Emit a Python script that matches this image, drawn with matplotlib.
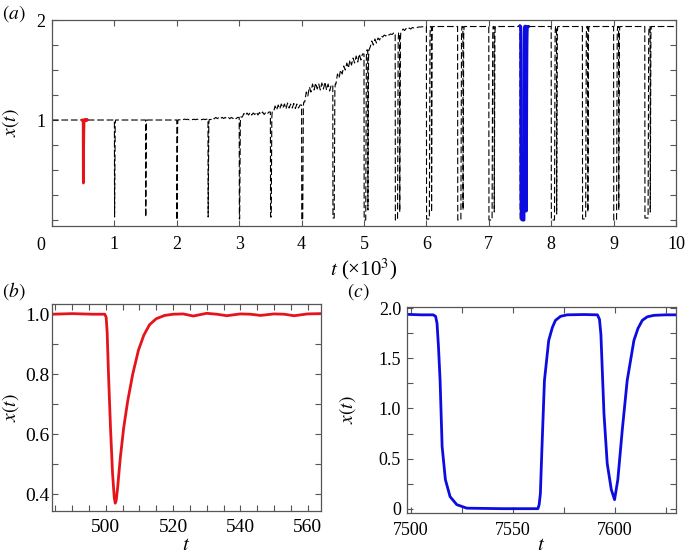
#!/usr/bin/python3

import numpy
import matplotlib
matplotlib.use('Agg')
import matplotlib.pyplot as plt
from matplotlib.ticker import MultipleLocator, FixedLocator, FuncFormatter

# panel (b): zoom on the first pulse (t ~ 500)
tb = [484, 490, 496, 499.7, 500.1, 500.4, 500.8, 501.4, 502.0, 502.5,
      502.8, 503.1, 503.5, 504.3, 505.3, 506.5, 508.0, 509.7, 511.3, 513.0,
      515.0, 517.5, 520.0, 523.0, 526.0, 530.0, 533.0, 536.0, 540.0, 543.0,
      546.0, 550.0, 553.0, 556.0, 560.0, 564.0]
xb = [1.000, 1.002, 1.000, 1.000, 0.99, 0.94, 0.80, 0.62, 0.47, 0.39,
      0.37, 0.38, 0.42, 0.52, 0.62, 0.71, 0.80, 0.88, 0.93, 0.965,
      0.985, 0.996, 1.000, 1.001, 0.994, 1.003, 1.000, 0.995, 1.001, 1.000,
      0.996, 1.001, 1.000, 0.995, 1.001, 1.002]

# panel (c): zoom on the pulse at t ~ 7500
tc = [7498, 7505, 7511, 7512.2, 7512.9, 7513.6, 7514.4, 7515.4, 7517.0, 7519.3,
      7522.6, 7527.5, 7545, 7562.4, 7563.0, 7563.6, 7564.4, 7565.6, 7567.7, 7569.5,
      7571.0, 7573.5, 7576.7, 7585, 7591.6, 7592.6, 7593.3, 7594.8, 7596.4, 7598.4,
      7600.0, 7601.6, 7603.8, 7606.2, 7609.5, 7611.5, 7613.6, 7616.0, 7619.3, 7625,
      7630]
xc = [1.940, 1.935, 1.935, 1.92, 1.85, 1.62, 1.28, 0.62, 0.29, 0.12,
      0.04, 0.005, 0.0, 0.0, 0.04, 0.15, 0.62, 1.28, 1.68, 1.81,
      1.88, 1.92, 1.935, 1.938, 1.935, 1.89, 1.74, 0.95, 0.45, 0.19,
      0.09, 0.29, 0.79, 1.28, 1.68, 1.80, 1.88, 1.915, 1.93, 1.935,
      1.935]

# panel (a): one pulse every 500 time units
pulse_t    = [500, 1000, 1500, 2000, 2500, 3000, 3500, 4000, 4500, 5000,
              5500, 6000, 6500, 7000, 7500, 8000, 8500, 9000, 9500]
dip_min    = [0.37, 0.03, 0.03, 0.0, 0.03, 0.01, 0.03, 0.0, 0.02, 0.0,
              0.0, 0.01, 0.0, 0.0, 0.0, 0.0, 0.01, 0.0, 0.02]
dip_floor  = [0, 0, 0, 0, 0, 5, 10, 15, 20, 25,
              35, 45, 50, 50, 50, 50, 50, 45, 50]
dip_second = [None, None, None, None, None, None, None, None, None, 0.10,
              0.08, 0.08, 0.10, 0.08, 0.09, 0.06, 0.08, 0.10, 0.08]

# shape of one dip: time after pulse / fraction of depth
fall_dt   = [0.0, 1.1, 2.0, 2.8]
fall_frac = [0.0, 0.52, 0.87, 1.0]
rise_dt   = [1.0, 1.9, 3.7, 6.9, 10.2, 13.2, 17.2]
rise_frac = [0.89, 0.70, 0.52, 0.17, 0.05, 0.02, 0.0]

# plateau between pulses, read every 25 time units (t = T+50 ... T+475)
lvl_2000 = [1.002, 1.008, 1.003, 1.009, 1.004, 1.008, 1.002, 1.009, 1.004,
            1.008, 1.003, 1.009, 1.004, 1.008, 1.003, 1.009, 1.004, 1.008]
lvl_2500 = [1.005, 1.022, 1.012, 1.026, 1.014, 1.025, 1.013, 1.027, 1.015,
            1.026, 1.014, 1.027, 1.013, 1.026, 1.015, 1.028, 1.014, 1.026]
lvl_3000 = [1.03, 1.065, 1.045, 1.07, 1.05, 1.075, 1.05, 1.07, 1.055,
            1.08, 1.05, 1.075, 1.055, 1.08, 1.055, 1.075, 1.06, 1.08]
lvl_3500 = [1.08, 1.14, 1.10, 1.15, 1.11, 1.16, 1.12, 1.16, 1.11,
            1.17, 1.12, 1.16, 1.12, 1.165, 1.115, 1.16, 1.12, 1.15]
lvl_4000 = [1.18, 1.28, 1.24, 1.33, 1.28, 1.36, 1.30, 1.37, 1.31,
            1.36, 1.30, 1.37, 1.31, 1.38, 1.30, 1.36, 1.29, 1.35]
lvl_4500 = [1.36, 1.46, 1.42, 1.50, 1.46, 1.54, 1.50, 1.57, 1.52,
            1.60, 1.55, 1.62, 1.57, 1.64, 1.58, 1.66, 1.60, 1.66]
lvl_5000 = [1.70, 1.76, 1.73, 1.79, 1.75, 1.81, 1.77, 1.82, 1.80,
            1.84, 1.83, 1.85, 1.84, 1.86, 1.85, 1.86, 1.855, 1.87]
lvl_5500 = [1.87, 1.90, 1.88, 1.91, 1.895, 1.915, 1.905, 1.92, 1.91,
            1.925, 1.92, 1.928, 1.925, 1.93, 1.93, 1.932, 1.933, 1.935]
lvl_low, lvl_high = 1.0, 1.935

noisy = {2000: lvl_2000, 2500: lvl_2500, 3000: lvl_3000, 3500: lvl_3500,
         4000: lvl_4000, 4500: lvl_4500, 5000: lvl_5000, 5500: lvl_5500}


def block(T):
	if T in noisy:
		return list(numpy.arange(T + 50, T + 500, 25)), noisy[T]
	lev = lvl_low if T < 2000 else lvl_high
	return [T + 50, T + 475], [lev, lev]


def dip(T, P0, P1, dmin, floor, dmin2):
	t = [T + d for d in fall_dt]
	x = [P0 - f * (P0 - dmin) for f in fall_frac]
	e = t[-1]
	if floor > 0:
		e += floor
		t.append(e)
		x.append(dmin)
	t += [e + d for d in rise_dt]
	x += [P1 - f * (P1 - dmin) for f in rise_frac]
	if dmin2 is not None:
		e = t[-1] + 15
		t += [e + d for d in fall_dt]
		x += [P1 - f * (P1 - dmin2) for f in fall_frac]
		e = t[-1]
		t += [e + d for d in rise_dt]
		x += [P1 - f * (P1 - dmin2) for f in rise_frac]
	return t, x


ta, xa = [0.0], [1.0]
bt, bx = block(0)
ta += bt
xa += bx
for i, T in enumerate(pulse_t):
	bt, bx = block(T)
	dt, dx = dip(T, xa[-1], bx[0], dip_min[i], dip_floor[i], dip_second[i])
	ta += dt
	xa += dx
	for t, x in zip(bt, bx):
		if t > ta[-1] + 5:
			ta.append(t)
			xa.append(x)
ta.append(10000.0)
xa.append(lvl_high)
ta = numpy.array(ta) / 1000.0

plt.rcParams['font.family'] = ['Liberation Serif', 'DejaVu Serif']
plt.rcParams['mathtext.fontset'] = 'stix'

red = '#e5141b'
blue = '#0c0ce0'
frame = '#555555'

fig = plt.figure(figsize=(6.86, 5.59), dpi=100)
ax_a = fig.add_axes([0.0758, 0.5957, 0.9096, 0.3685])
ax_b = fig.add_axes([0.0758, 0.0859, 0.3922, 0.3697])
ax_c = fig.add_axes([0.5928, 0.0818, 0.3922, 0.3695])

ax_a.plot(ta, xa, color='k', lw=0.8, ls=(0, (6, 2.5)))
ax_a.plot(numpy.array(tb) / 1000.0, xb, color=red, lw=2.0)
ax_a.plot(numpy.array(tc) / 1000.0, xc, color=blue, lw=2.2)
ax_b.plot(tb, xb, color=red, lw=2.0)
ax_c.plot(tc, xc, color=blue, lw=2.0)

ax_a.set_xlim(0, 10)
ax_a.set_ylim(-0.06, 2.0)
ax_a.xaxis.set_major_locator(MultipleLocator(1))
ax_a.xaxis.set_major_formatter(FuncFormatter(lambda v, p: '' if abs(v) < 1e-9 else '%d' % round(v)))
ax_a.yaxis.set_major_locator(FixedLocator([1, 2]))
ax_a.yaxis.set_minor_locator(MultipleLocator(0.25))

ax_b.set_xlim(484, 564)
ax_b.set_ylim(0.344, 1.033)
ax_b.xaxis.set_major_locator(MultipleLocator(20))
ax_b.xaxis.set_minor_locator(MultipleLocator(5))
ax_b.yaxis.set_major_locator(MultipleLocator(0.2))
ax_b.yaxis.set_minor_locator(MultipleLocator(0.1))
ax_b.yaxis.set_major_formatter(FuncFormatter(lambda v, p: '%.1f' % v))

ax_c.set_xlim(7498, 7630)
ax_c.set_ylim(-0.046, 2.016)
ax_c.xaxis.set_major_locator(MultipleLocator(50))
ax_c.xaxis.set_minor_locator(MultipleLocator(25))
ax_c.yaxis.set_major_locator(MultipleLocator(0.5))
ax_c.yaxis.set_minor_locator(MultipleLocator(0.25))
ax_c.yaxis.set_major_formatter(FuncFormatter(lambda v, p: '0' if abs(v) < 1e-9 else '%.1f' % v))

for ax, size, xpad, ypad in ((ax_a, 13, 7, 5), (ax_b, 14, 6, 2), (ax_c, 13, 6, 4)):
	ax.tick_params(which='both', direction='in', top=True, right=True,
	               length=4, width=0.8, color=frame, labelsize=size)
	ax.tick_params(axis='x', which='both', pad=xpad)
	ax.tick_params(axis='y', which='both', pad=ypad)
	for s in ax.spines.values():
		s.set_color(frame)
		s.set_linewidth(0.9)

# the "0" at the origin of (a) sits left of its tick
ax_a.text(-0.0176, -0.053, '0', transform=ax_a.transAxes, fontsize=13,
          ha='center', va='top')

ax_a.set_xlabel(r'$t$ (×10$^3$)', fontsize=15)
ax_a.set_ylabel(r'$x(t)$', fontsize=14)
ax_b.set_xlabel(r'$t$', fontsize=15)
ax_b.set_ylabel(r'$x(t)$', fontsize=14)
ax_c.set_xlabel(r'$t$', fontsize=15)
ax_c.set_ylabel(r'$x(t)$', fontsize=14)
ax_a.xaxis.set_label_coords(0.5, -0.15)
ax_a.yaxis.set_label_coords(-0.05, 0.5)
ax_b.xaxis.set_label_coords(0.5, -0.12)
ax_b.yaxis.set_label_coords(-0.115, 0.5)
ax_c.xaxis.set_label_coords(0.5, -0.11)
ax_c.yaxis.set_label_coords(-0.181, 0.5)

fig.text(0.003, 0.975, r'$(a)$', fontsize=14, va='center')
fig.text(0.003, 0.479, r'$(b)$', fontsize=14, va='center')
fig.text(0.506, 0.479, r'$(c)$', fontsize=14, va='center')

fig.savefig('out.png', dpi=100)
